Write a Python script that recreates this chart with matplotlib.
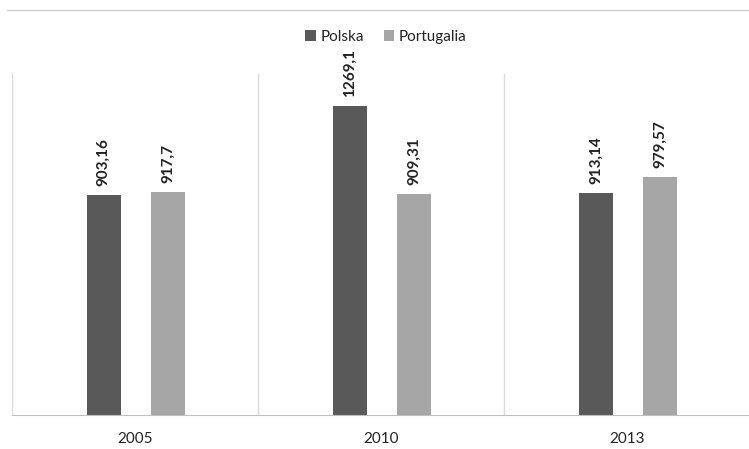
import matplotlib.pyplot as plt
import numpy as np
from matplotlib.lines import Line2D

plt.rcParams['font.family'] = ['Lato', 'DejaVu Sans']

years = ["2005", "2010", "2013"]
series = ["Polska", "Portugalia"]
polska = [903.16, 1269.1, 913.14]
portugalia = [917.7, 909.31, 979.57]
value_labels = {
    "Polska": ["903,16", "1269,1", "913,14"],
    "Portugalia": ["917,7", "909,31", "979,57"],
}
colors = {"Polska": "#595959", "Portugalia": "#a6a6a6"}

fig = plt.figure(figsize=(7.49, 4.49), dpi=100)
ax = fig.add_axes([0.016, 0.0757, 0.986, 0.759])

x = np.arange(len(years))
w = 0.138
offsets = {"Polska": -0.128, "Portugalia": 0.134}
data = {"Polska": polska, "Portugalia": portugalia}

for name in series:
    bars = ax.bar(x + offsets[name], data[name], width=w, color=colors[name], label=name, zorder=2)
    for b, txt in zip(bars, value_labels[name]):
        ax.annotate(txt, (b.get_x() + b.get_width() / 2, b.get_height()),
                    xytext=(0, 6.5), textcoords="offset points", rotation=90,
                    ha="center", va="bottom", fontsize=11, fontweight="bold", color="#222222")

# category separators
for sep in [-0.5, 0.5, 1.5, 2.5]:
    ax.axvline(sep, color="#d9d9d9", lw=1, zorder=1)

ax.set_xlim(-0.5, 2.5)
ax.set_ylim(0, 1400)
ax.set_xticks(x)
ax.set_xticklabels(years, fontsize=11, color="#222222")
ax.tick_params(axis="x", length=0, pad=12)
ax.set_yticks([])
for s in ["top", "left", "right"]:
    ax.spines[s].set_visible(False)
ax.spines["bottom"].set_color("#bfbfbf")

leg = fig.legend(loc="center", bbox_to_anchor=(0.515, 0.918), ncol=2, frameon=False,
                 fontsize=11, handlelength=0.7, handleheight=0.7, handletextpad=0.3,
                 columnspacing=1.3)
for t in leg.get_texts():
    t.set_color("#222222")

# thin rule along the top
fig.add_artist(Line2D([0.009, 1.0], [0.978, 0.978], color="#d0d0d0", lw=1))

fig.savefig("out.png", dpi=100)
